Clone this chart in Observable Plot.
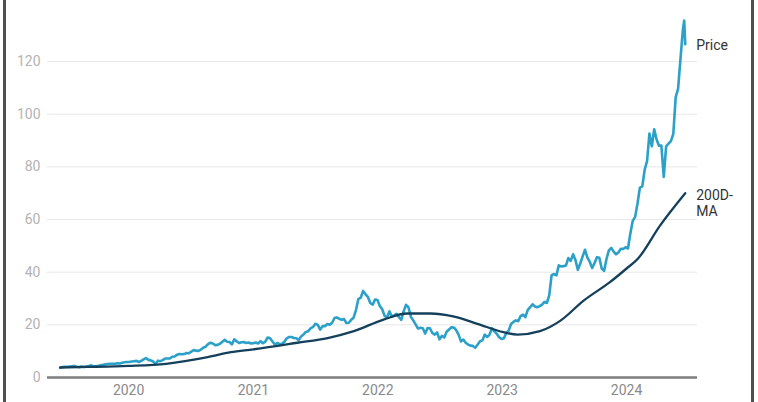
<!DOCTYPE html>
<html>
<head>
<meta charset="utf-8">
<script src="https://cdn.jsdelivr.net/npm/d3@7"></script>
<script src="https://cdn.jsdelivr.net/npm/@observablehq/plot@0.6"></script>
<style>
  html, body { margin: 0; padding: 0; background: #fff; }
  #wrap { position: relative; width: 758px; height: 402px; overflow: hidden; font-family: Roboto, "Noto Sans", sans-serif; }
  .edge { position: absolute; top: 0; width: 3px; height: 402px; background: #505050; }
  #chart { position: absolute; left: 0; top: 0; }
</style>
</head>
<body>
<div id="wrap">
  <div id="chart"></div>
  <div class="edge" style="left:3px"></div>
  <div class="edge" style="left:751px"></div>
</div>
<script>
// Weekly closing prices (split-adjusted), each year starting on its first Friday shown
const firstFridays = ["2019-06-14", "2020-01-03", "2021-01-01", "2022-01-07", "2023-01-06", "2024-01-05"];
const close2019 = [3.65, 4.0, 4.1, 4.1, 4.2, 4.3, 4.4, 4.1, 3.9, 4.2, 4.0, 4.2, 4.4, 4.6, 4.3, 4.3, 4.4, 4.7, 4.8, 5.0, 5.1, 5.2, 5.25, 5.2, 5.4, 5.3, 5.6, 5.8, 5.9];
const close2020 = [5.9, 6.1, 6.2, 6.3, 5.9, 6.3, 6.9, 7.4, 6.7, 6.5, 6.1, 5.1, 6.4, 6.2, 6.6, 7.2, 7.2, 7.2, 7.9, 8.0, 8.6, 8.9, 8.8, 8.9, 9.3, 9.2, 9.8, 10.4, 10.2, 10.1, 10.6, 11.3, 11.7, 12.7, 13.2, 12.9, 12.3, 12.4, 12.8, 13.6, 14.3, 13.6, 13.5, 12.6, 14.5, 13.7, 13.1, 13.4, 13.5, 13.1, 13.3, 12.9];
const close2021 = [13.05, 13.3, 12.9, 13.8, 13.0, 13.6, 15.2, 14.9, 13.7, 12.5, 13.1, 12.7, 12.8, 13.6, 14.9, 15.4, 15.4, 15.0, 14.9, 14.2, 15.6, 16.3, 17.3, 17.6, 18.7, 19.2, 20.4, 20.0, 18.2, 19.5, 19.5, 20.3, 20.0, 20.8, 22.6, 22.8, 22.3, 21.9, 22.2, 20.7, 20.8, 21.9, 22.7, 25.6, 29.8, 30.3, 32.9, 31.6, 30.6, 28.3, 27.7, 29.6, 29.4];
const close2022 = [27.2, 25.9, 23.4, 22.8, 25.1, 23.2, 23.6, 24.2, 22.9, 21.9, 25.2, 27.6, 26.7, 23.1, 21.7, 20.2, 18.6, 18.9, 18.7, 16.7, 18.8, 18.7, 16.9, 16.3, 17.1, 14.5, 15.8, 15.2, 17.4, 18.2, 19.1, 19.0, 18.0, 16.3, 13.7, 14.4, 13.2, 12.5, 12.1, 12.0, 11.3, 12.5, 13.8, 14.1, 16.3, 15.4, 16.3, 18.7, 17.5, 16.6, 15.3, 14.6];
const close2023 = [14.9, 16.9, 17.8, 20.3, 21.1, 21.7, 21.4, 23.3, 23.9, 22.9, 25.7, 26.7, 27.8, 27.0, 26.7, 27.1, 27.7, 28.7, 28.3, 31.2, 38.9, 39.3, 38.8, 42.6, 42.2, 42.3, 42.5, 45.4, 44.3, 46.8, 44.6, 40.9, 43.3, 46.0, 48.5, 45.5, 43.9, 41.6, 43.5, 45.7, 45.5, 41.4, 40.5, 45.0, 48.3, 49.2, 47.8, 46.8, 47.5, 48.9, 48.8, 49.5];
const close2024 = [49.0, 54.7, 59.5, 61.0, 66.1, 72.1, 72.6, 78.9, 82.2, 92.7, 87.8, 94.3, 90.4, 88.0, 88.1, 76.2, 87.8, 88.8, 89.8, 92.5, 106.5, 109.6, 120.9, 131.9];
const lastDays = ["2024-06-18", "2024-06-21"];
const lastCloses = [135.6, 126.6];

// 200-day moving average, read at key dates
const maDates = ["2019-06-14", "2019-09-01", "2019-12-31", "2020-04-20", "2020-08-20", "2020-10-27", "2021-01-01", "2021-05-10", "2021-08-07", "2021-10-23", "2022-01-18", "2022-03-28", "2022-06-05", "2022-08-10", "2022-10-20", "2023-01-05", "2023-02-15", "2023-04-22", "2023-06-20", "2023-08-28", "2023-11-13", "2024-01-01", "2024-02-03", "2024-04-08", "2024-06-21"];
const maValues = [3.8, 4.0, 4.4, 5.2, 7.7, 9.6, 10.7, 13.2, 15.0, 17.6, 22.0, 24.3, 24.3, 23.2, 20.4, 17.2, 16.3, 17.6, 21.5, 29.2, 36.2, 41.4, 45.1, 57.7, 70.0];

const yTicks = [0, 20, 40, 60, 80, 100, 120];
const priceLabel = "Price";
const maLabel = "200D-\nMA";

// ---- build tables ----
const yearly = [close2019, close2020, close2021, close2022, close2023, close2024];
const price = [];
yearly.forEach((arr, k) => {
  const start = new Date(firstFridays[k] + "T00:00:00Z");
  arr.forEach((v, i) => price.push({date: d3.utcDay.offset(start, 7 * i), value: v}));
});
lastDays.forEach((d, i) => price.push({date: new Date(d + "T00:00:00Z"), value: lastCloses[i]}));
const ma = maDates.map((d, i) => ({date: new Date(d + "T00:00:00Z"), value: maValues[i]}));

const priceEnd = [{date: price[price.length - 1].date, value: price[price.length - 1].value, label: priceLabel}];
const maEnd = [{date: ma[ma.length - 1].date, value: ma[ma.length - 1].value, label: maLabel}];

const priceColor = "#2ba0c8";
const maColor = "#15405c";

const chart = Plot.plot({
  width: 758,
  height: 402,
  marginLeft: 47,
  marginRight: 61,
  marginTop: 8.4,
  marginBottom: 25,
  style: {fontFamily: "Roboto, 'Noto Sans', sans-serif", background: "transparent"},
  x: {type: "utc", domain: [new Date("2019-05-08T00:00:00Z"), new Date("2024-07-27T00:00:00Z")]},
  y: {domain: [0, 140]},
  marks: [
    Plot.gridY(yTicks.filter(t => t > 0), {stroke: "#e6e6e6", strokeOpacity: 1, strokeWidth: 1}),
    Plot.axisY(yTicks, {tickSize: 0, tickPadding: 7, fontSize: 14, fill: "#b3b3b3", label: null}),
    Plot.axisX({ticks: d3.utcYear.every(1), tickFormat: "%Y", tickSize: 0, tickPadding: 8, fontSize: 14, fill: "#8a8a8a", label: null}),
    Plot.ruleY([0], {stroke: "#7d7d7d", strokeWidth: 2.5}),
    Plot.lineY(price, {x: "date", y: "value", stroke: priceColor, strokeWidth: 2.6, strokeLinejoin: "round"}),
    Plot.lineY(ma, {x: "date", y: "value", stroke: maColor, strokeWidth: 2.3, curve: "monotone-x"}),
    Plot.text(priceEnd, {x: "date", y: "value", text: "label", textAnchor: "start", dx: 11, dy: 1, fontSize: 14, fill: "#333"}),
    Plot.text(maEnd, {x: "date", y: "value", text: "label", textAnchor: "start", lineAnchor: "top", dx: 11, dy: -4, fontSize: 14, fill: "#333", lineHeight: 1.1})
  ]
});
document.getElementById("chart").appendChild(chart);
</script>
</body>
</html>
